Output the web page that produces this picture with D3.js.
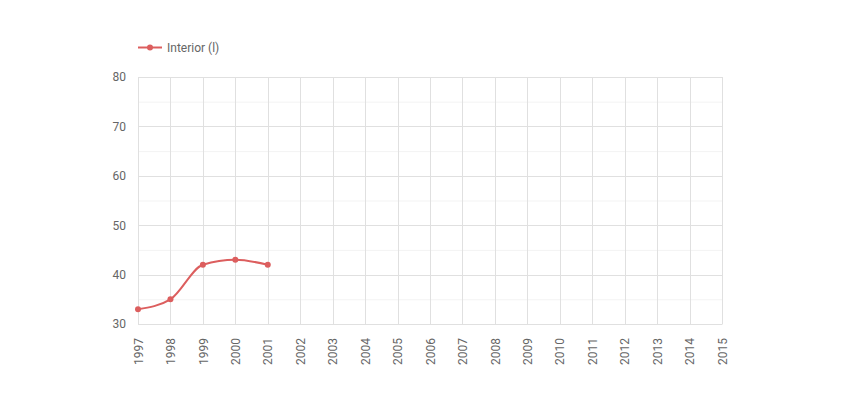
<!DOCTYPE html>
<html><head><meta charset="utf-8">
<script src="https://cdn.jsdelivr.net/npm/d3@7"></script>
<style>body{margin:0;background:#fff}svg{display:block}text{font-family:Roboto,"Liberation Sans",sans-serif;fill:#666}</style>
</head><body><svg id="c" width="860" height="402"></svg>
<script>
const years = ["1997","1998","1999","2000","2001","2002","2003","2004","2005","2006","2007","2008","2009","2010","2011","2012","2013","2014","2015"];
const seriesName = "Interior (l)";
const values = [33, 35, 42, 43, 42];
const yTicks = [30, 40, 50, 60, 70, 80];
const yMinor = [35, 45, 55, 65, 75];

const svg = d3.select("#c");
const L = 138, R = 722, T = 77, B = 324;
const color = "#dc5e5e";
const x = d3.scalePoint().domain(years).range([L, R]);
const y = d3.scaleLinear().domain([30, 80]).range([B, T]);

const g = svg.append("g");
g.selectAll(".minor").data(yMinor).enter().append("line")
  .attr("x1", L).attr("x2", R).attr("y1", d => y(d) + 0.5).attr("y2", d => y(d) + 0.5)
  .attr("stroke", "#f3f3f3");
g.selectAll(".major").data(yTicks).enter().append("line")
  .attr("x1", L).attr("x2", R).attr("y1", d => Math.round(y(d)) + 0.5).attr("y2", d => Math.round(y(d)) + 0.5)
  .attr("stroke", "#e0e0e0");
g.selectAll(".vx").data(years).enter().append("line")
  .attr("x1", d => Math.round(x(d)) + 0.5).attr("x2", d => Math.round(x(d)) + 0.5)
  .attr("y1", T).attr("y2", B + 0.5)
  .attr("stroke", "#e0e0e0");

const yAxis = d3.axisLeft(y).tickValues(yTicks).tickSize(0).tickPadding(12);
svg.append("g").attr("transform", `translate(${L},0)`).call(yAxis)
  .call(a => a.select(".domain").remove())
  .selectAll("text").style("font-size", "12px").attr("fill", "#666");

const xAxis = d3.axisBottom(x).tickSize(0).tickPadding(0);
svg.append("g").attr("transform", `translate(0,${B})`).call(xAxis)
  .call(a => a.select(".domain").remove())
  .selectAll("text").style("font-size", "12px").attr("fill", "#666")
  .attr("text-anchor", "end").attr("dy", "0.35em")
  .attr("transform", "translate(0,14) rotate(-90)").attr("x", 0).attr("y", 0);

const pts = values.map((v, i) => [x(years[i]), y(v)]);
svg.append("path").attr("d", d3.line().curve(d3.curveMonotoneX)(pts))
  .attr("fill", "none").attr("stroke", color).attr("stroke-width", 2);
svg.selectAll(".pt").data(pts).enter().append("circle")
  .attr("cx", d => d[0]).attr("cy", d => d[1]).attr("r", 3).attr("fill", color);

const lg = svg.append("g");
lg.append("line").attr("x1", 138).attr("x2", 162).attr("y1", 47.5).attr("y2", 47.5).attr("stroke", color).attr("stroke-width", 2);
lg.append("circle").attr("cx", 150).attr("cy", 47.5).attr("r", 3).attr("fill", color);
lg.append("text").attr("x", 167).attr("y", 47.5).attr("dy", "0.35em").style("font-size", "12px").text(seriesName);
</script></body></html>
